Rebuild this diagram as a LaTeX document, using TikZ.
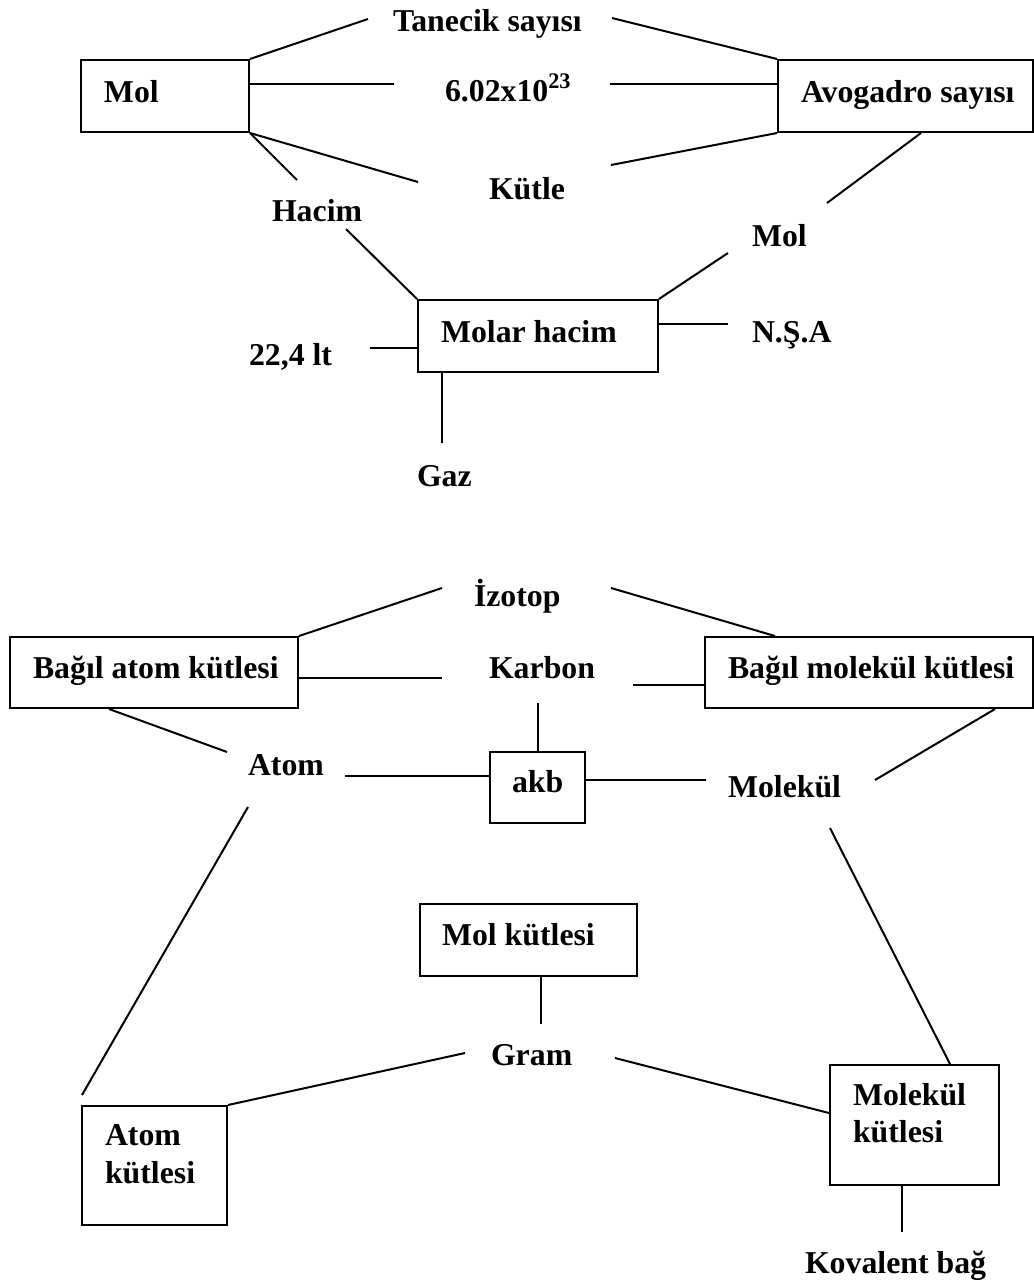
\documentclass[tikz,border=0pt]{standalone}
\usepackage{fontspec}
\setmainfont{Liberation Serif}
\usetikzlibrary{calc,fit}
\begin{document}
\begin{tikzpicture}[x=0.5pt,y=-0.5pt,
  line width=1pt,
  box/.style={draw,rectangle,inner sep=0pt,line width=1pt},
  lbl/.style={inner sep=0pt,anchor=base west,font=\fontsize{15.9}{18.5}\selectfont\bfseries,align=left},
  link/.style={draw,line width=1pt}]
\useasboundingbox (0,0) rectangle (1034,1287);

% ---------- upper map: mol and molar volume ----------
\node[box,fit={(81,60)(249,132)}] (molbox) {};
\node[lbl] (molT) at (103,102) {Mol};
\node[box,fit={(778,60)(1033,132)}] (avobox) {};
\node[lbl] (avoT) at (800,102) {Avogadro sayısı};
\node[lbl] (tanecik) at (392,31) {Tanecik sayısı};
\node[lbl] (avnum) at (444,101) {6.02x10\textsuperscript{23}};
\node[lbl] (kutle) at (488,199) {Kütle};
\node[lbl] (hacim) at (271,221) {Hacim};
\node[lbl] (mol2) at (751,246) {Mol};
\node[box,fit={(418,300)(658,372)}] (molarbox) {};
\node[lbl] (molarT) at (440,342) {Molar hacim};
\node[lbl] (litre) at (248,365) {22,4 lt};
\node[lbl] (nsa) at (751,342) {N.Ş.A};
\node[lbl] (gaz) at (416,486) {Gaz};

\coordinate (tA) at (368,19);
\coordinate (tB) at (394,84);
\coordinate (tC) at (418,182);
\coordinate (tD) at (297,180);
\coordinate (tE) at (612,18);
\coordinate (tF) at (610,84);
\coordinate (tG) at (611,165);
\coordinate (tH) at (827,203);
\coordinate (tI) at (346,229);
\coordinate (tJ) at (728,253);
\coordinate (tK) at (728,324);
\coordinate (tL) at (370,348);
\coordinate (tM) at (442,443);

\draw[link] (molbox.north east) -- (tA);
\draw[link] (molbox.east |- tB) -- (tB);
\draw[link] (molbox.south east) -- (tC);
\draw[link] (molbox.south east) -- (tD);
\draw[link] (tE) -- (avobox.north west);
\draw[link] (tF) -- (avobox.west |- tF);
\draw[link] (tG) -- (avobox.south west);
\draw[link] ($(avobox.south west)+(144,0)$) -- (tH);
\draw[link] (tI) -- (molarbox.north west);
\draw[link] (tJ) -- (molarbox.north east);
\draw[link] (molarbox.east |- tK) -- (tK);
\draw[link] (tL) -- (molarbox.west |- tL);
\draw[link] (molarbox.south west -| tM) -- (tM);

% ---------- lower map: relative and molar masses ----------
\node[box,fit={(10,637)(298,708)}] (bab) {};
\node[lbl] (babT) at (32,678) {Bağıl atom kütlesi};
\node[box,fit={(705,637)(1033,708)}] (bmk) {};
\node[lbl] (bmkT) at (727,678) {Bağıl molekül kütlesi};
\node[lbl] (izotop) at (473,606) {İzotop};
\node[lbl] (karbon) at (488,678) {Karbon};
\node[box,fit={(490,752)(585,823)}] (akb) {};
\node[lbl] (akbT) at (511,792) {akb};
\node[lbl] (atom) at (247,775) {Atom};
\node[lbl] (molekul) at (727,797) {Molekül};
\node[box,fit={(420,904)(637,976)}] (molk) {};
\node[lbl] (molkT) at (441,945) {Mol kütlesi};
\node[lbl] (gram) at (490,1065) {Gram};
\node[box,fit={(82,1106)(227,1225)}] (atomk) {};
% base anchor of a two-line label sits on its last line
\node[lbl] (atomkT) at (104,1183) {Atom\\[0.5pt]kütlesi};
\node[box,fit={(830,1065)(999,1185)}] (molekk) {};
\node[lbl] (molekkT) at (852,1142) {Molekül\\kütlesi};
\node[lbl] (kovalent) at (804,1273) {Kovalent bağ};

\coordinate (bA) at (442,588);
\coordinate (bB) at (442,678);
\coordinate (bC) at (227,752);
\coordinate (bD) at (611,588);
\coordinate (bE) at (633,685);
\coordinate (bF) at (538,703);
\coordinate (bG) at (345,776);
\coordinate (bH) at (706,780);
\coordinate (bI) at (875,780);
\coordinate (bJ1) at (248,807);
\coordinate (bJ2) at (82,1095);
\coordinate (bK) at (465,1053);
\coordinate (bL) at (541,1024);
\coordinate (bM) at (615,1058);
\coordinate (bN) at (830,828);
\coordinate (bO) at (902,1232);

\draw[link] (bab.north east) -- (bA);
\draw[link] (bab.east |- bB) -- (bB);
\draw[link] ($(bab.south west)+(100,0)$) -- (bC);
\draw[link] (bD) -- ($(bmk.north west)+(71,0)$);
\draw[link] (bE) -- (bmk.west |- bE);
\draw[link] (bF) -- (akb.north -| bF);
\draw[link] (bG) -- (akb.west |- bG);
\draw[link] (akb.east |- bH) -- (bH);
\draw[link] (bI) -- ($(bmk.south east)+(-39,0)$);
\draw[link] (bJ1) -- (bJ2);
\draw[link] (bK) -- (atomk.north east);
\draw[link] (molk.south -| bL) -- (bL);
\draw[link] (bM) -- (molekk.west |- 0,1113);
\draw[link] (bN) -- ($(molekk.north west)+(121,0)$);
\draw[link] (molekk.south -| bO) -- (bO);
\end{tikzpicture}
\end{document}
